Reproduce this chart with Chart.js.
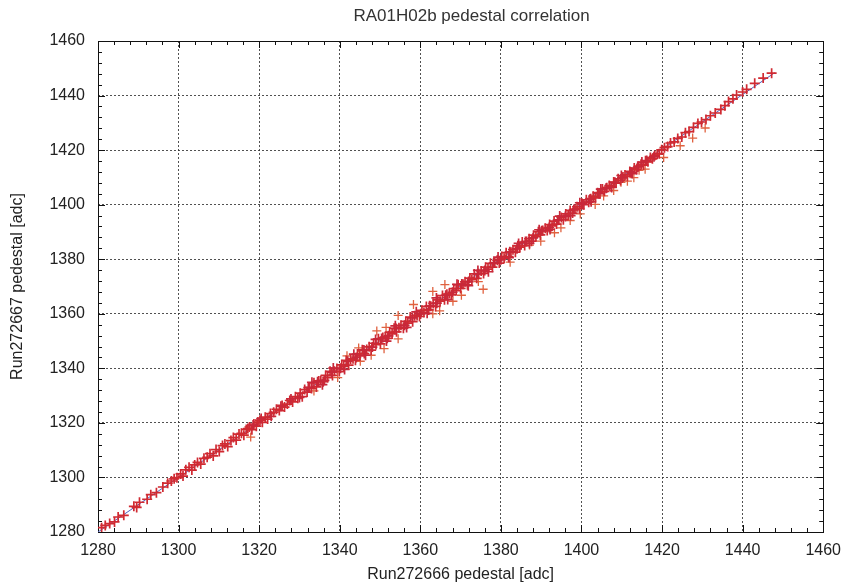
<!DOCTYPE html>
<html>
<head>
<meta charset="utf-8">
<title>RA01H02b pedestal correlation</title>
<script src="https://cdn.jsdelivr.net/npm/chart.js@4"></script>
<style>
  html, body { margin: 0; padding: 0; background: #fff; }
  #wrap { width: 850px; height: 588px; }
</style>
</head>
<body>
<div id="wrap"><canvas id="pedChart" width="850" height="588"></canvas></div>
<script>
// --- data: [Run272666, Run272667] pedestal pairs ---
const bandPoints = [
  [1280.9,1281.6],[1281.8,1282.4],[1282.9,1283.1],[1284.1,1283.7],[1285.0,1285.5],[1286.4,1286.1],
  [1288.9,1289.4],[1289.6,1289.0],[1290.3,1290.9],[1292.2,1292.0],[1293.1,1293.7],[1294.5,1294.4],
  [1296.1,1296.5],[1297.3,1297.9],[1298.2,1298.7],[1298.9,1299.5],[1299.6,1299.9],
  [1300.5,1301.3],[1301.1,1300.5],[1301.8,1302.8],[1302.6,1303.7],[1303.3,1302.7],[1304.0,1304.6],
  [1304.7,1305.5],[1305.5,1304.9],[1306.3,1307.0],[1307.1,1307.4],[1307.8,1308.7],[1308.6,1307.9],
  [1309.3,1310.2],[1310.1,1309.5],[1310.9,1311.7],[1311.5,1312.3],[1312.2,1311.3],[1313.0,1313.5],
  [1313.6,1314.6],[1314.3,1313.7],[1315.0,1315.9],[1315.6,1316.2],[1316.2,1315.5],[1316.8,1317.6],
  [1317.2,1317.9],[1317.6,1318.5],[1318.2,1317.5],[1318.7,1319.6],[1319.3,1318.8],[1319.7,1320.3],
  [1320.2,1321.0],[1320.8,1320.2],[1321.5,1322.1],[1322.1,1321.4],[1322.8,1323.4],[1323.6,1323.9],
  [1324.3,1325.0],[1325.0,1324.5],[1325.7,1326.4],[1326.3,1325.8],[1327.0,1326.9],[1327.6,1328.2],
  [1328.3,1327.7],[1329.0,1329.6],[1329.6,1329.0],
  [1330.2,1330.9],[1330.7,1329.6],[1331.3,1332.2],[1331.9,1331.3],[1332.5,1333.0],[1333.0,1332.6],
  [1333.6,1334.7],[1334.2,1333.2],[1334.8,1335.4],[1335.3,1335.5],[1335.9,1335.1],[1336.5,1337.4],
  [1337.0,1336.6],[1337.6,1338.9],[1338.2,1337.4],[1338.7,1338.9],[1339.3,1339.9],[1339.9,1338.8],
  [1340.5,1341.3],[1341.0,1340.7],[1341.6,1342.9],[1342.2,1341.2],[1342.7,1343.4],[1343.3,1343.5],
  [1343.9,1343.0],[1344.4,1345.3],[1345.0,1344.6],[1345.6,1346.8],[1346.1,1345.4],[1346.7,1346.9],
  [1347.3,1347.9],[1347.8,1346.7],[1348.4,1349.2],[1349.0,1348.7],[1349.6,1350.8],[1350.1,1349.0],
  [1350.7,1351.3],[1351.3,1351.5],[1351.8,1351.0],[1352.4,1353.3],[1353.0,1352.6],[1353.5,1354.7],
  [1354.1,1353.4],[1354.7,1354.9],[1355.2,1355.8],[1355.8,1354.7],[1356.4,1357.2],[1356.9,1356.6],
  [1357.5,1358.8],[1358.1,1357.1],[1358.6,1359.3],[1359.2,1359.4],[1359.8,1359.0],[1360.4,1361.3],
  [1360.9,1360.5],[1361.5,1362.7],[1362.1,1361.4],[1362.6,1362.8],[1363.2,1363.8],[1363.8,1362.7],
  [1364.3,1365.1],[1364.9,1364.6],[1365.5,1366.7],[1366.0,1365.1],[1366.6,1367.2],[1367.2,1367.4],
  [1367.7,1366.9],[1368.3,1369.2],[1368.9,1368.5],[1369.4,1370.6],[1370.0,1369.3],[1370.6,1370.8],
  [1371.1,1371.7],[1371.7,1370.6],[1372.3,1373.1],[1372.8,1372.5],[1373.4,1374.6],[1374.0,1373.0],
  [1374.5,1374.7],[1375.1,1375.7],[1375.7,1374.8],[1376.2,1377.1],[1376.8,1376.4],[1377.4,1378.5],
  [1377.9,1377.1],[1378.5,1378.7],[1379.1,1379.6],[1379.6,1378.6],[1380.2,1381.0],[1380.8,1380.4],
  [1381.3,1382.4],[1381.9,1381.0],[1382.5,1382.6],[1383.0,1383.5],[1383.6,1382.6],[1384.2,1384.9],
  [1384.7,1384.4],[1385.3,1386.3],[1385.9,1385.0],[1386.4,1386.5],[1387.0,1387.5],[1387.6,1386.6],
  [1388.1,1388.8],[1388.7,1388.3],[1389.3,1390.1],[1389.8,1388.9],[1390.4,1390.5],[1391.0,1391.4],
  [1391.5,1390.5],[1392.1,1392.7],[1392.7,1392.2],[1393.2,1394.0],[1393.8,1392.9],[1394.4,1394.4],
  [1395.0,1395.3],[1395.5,1394.5],[1396.1,1396.6],[1396.7,1396.1],[1397.2,1397.9],[1397.8,1396.9],
  [1398.4,1398.3],[1398.9,1399.2],[1399.5,1398.5],[1400.1,1400.5],[1400.6,1400.0],[1401.2,1401.8],
  [1401.8,1400.9],[1402.3,1402.2],[1402.9,1403.1],[1403.5,1402.5],[1404.0,1404.4],[1404.6,1404.0],
  [1405.2,1405.7],[1405.7,1404.9],[1406.3,1406.2],[1406.9,1407.0],[1407.4,1406.5],[1408.0,1408.3],
  [1408.6,1407.9],[1409.1,1409.5],[1409.7,1408.9],[1410.3,1410.1],[1410.8,1410.9],[1411.4,1410.4],
  [1412.0,1412.2],[1412.5,1411.8],[1413.1,1413.4],[1413.7,1412.9],[1414.2,1414.1],[1414.8,1414.8],
  [1415.4,1414.5],[1415.9,1416.1],[1416.5,1415.7],[1417.1,1417.3],[1417.6,1416.8],[1418.2,1418.0],
  [1418.8,1418.6],[1419.3,1418.7],[1419.9,1420.1],
  [1420.6,1420.9],[1421.4,1421.3],[1422.1,1422.6],[1423.0,1423.0],[1423.9,1424.3],[1424.9,1424.8],
  [1425.8,1426.4],[1426.7,1426.8],[1427.8,1428.3],[1428.9,1429.8],[1429.8,1430.3],[1430.9,1431.2],
  [1432.0,1432.6],[1433.2,1433.6],[1434.6,1434.9],[1435.6,1436.3],[1436.5,1437.8],[1437.6,1438.8],
  [1438.5,1440.2],[1440.0,1441.3],[1441.0,1442.3],[1443.0,1444.5],[1445.1,1446.4],[1447.2,1448.2]
];

// extra overlapping points that make the dense middle of the band look solid and wide
const bandCorePoints = [
  [1318.5,1319.2],[1320.5,1321.6],[1323.0,1322.4],[1325.4,1326.1],[1327.9,1328.8],[1330.0,1329.3],
  [1332.2,1332.9],[1334.5,1335.1],[1336.2,1335.6],[1338.0,1338.6],[1340.2,1340.0],[1342.0,1342.6],
  [1344.1,1344.0],[1346.0,1346.7],[1348.1,1347.8],[1350.4,1350.9],[1352.1,1351.9],[1354.0,1354.6],
  [1356.1,1355.8],[1358.0,1358.5],[1360.1,1360.0],[1362.3,1362.9],[1364.1,1363.9],[1366.3,1366.8],
  [1368.0,1367.9],[1370.3,1370.9],[1372.0,1371.8],[1374.2,1374.6],[1376.0,1375.9],[1378.2,1378.6],
  [1380.0,1379.8],[1382.2,1382.7],[1384.0,1383.8],[1386.1,1386.5],[1388.0,1387.8],[1390.1,1390.4],
  [1392.0,1391.6],[1394.1,1394.3],[1396.0,1395.7],[1398.1,1398.2],[1400.3,1400.2],[1402.1,1402.0],
  [1404.3,1404.1],[1406.1,1406.0],[1408.3,1408.2],[1410.1,1409.8],[1412.2,1412.0],[1414.0,1413.8],
  [1416.2,1416.2],[1418.0,1417.6],
  [1333.1,1334.9],[1335.7,1334.0],[1338.4,1340.1],[1341.2,1339.6],[1343.5,1345.2],[1346.4,1344.8],
  [1348.9,1350.6],[1351.6,1350.0],[1353.8,1355.6],[1356.6,1355.0],[1359.0,1360.7],[1361.7,1360.2],
  [1364.0,1365.8],[1366.8,1365.2],[1369.1,1370.8],[1371.9,1370.3],[1374.3,1375.9],[1376.9,1375.4],
  [1379.3,1380.8],[1382.0,1380.6],[1384.4,1385.8],[1387.1,1385.8],[1389.5,1390.8],[1392.2,1390.9],
  [1394.6,1395.8],[1397.3,1396.0],[1399.6,1400.7],[1402.4,1401.1],[1404.8,1405.7],[1407.5,1406.3],
  [1409.9,1410.7],[1412.6,1411.4],[1415.0,1415.6]
];

const outlierPoints = [
  [1341.8,1344.6],[1344.7,1347.5],[1349.2,1353.7],[1351.5,1355.0],[1354.5,1359.4],[1358.3,1363.4],
  [1363.1,1368.2],[1366.1,1370.7],
  [1317.9,1314.8],[1333.6,1331.7],[1339.5,1336.6],[1345.1,1342.6],[1347.8,1344.8],[1351.0,1347.2],
  [1354.5,1350.8],[1363.1,1360.0],[1364.8,1361.1],[1368.1,1364.6],[1370.2,1366.8],[1374.4,1371.8],
  [1375.6,1369.0],[1382.3,1378.9],[1387.1,1385.2],[1389.9,1386.6],[1393.3,1389.7],[1394.9,1391.5],
  [1397.2,1394.2],[1399.7,1396.6],[1403.4,1400.1],[1405.5,1403.2],[1408.0,1405.2],[1409.8,1408.2],
  [1411.4,1408.6],[1413.0,1409.9],[1414.3,1412.6],[1415.8,1413.0],[1420.4,1417.3],[1424.5,1421.6],
  [1427.6,1424.4],[1430.7,1428.1]
];

// thin fit line under the points
const fitX = [1280, 1448];
const fitY = [1280.0, 1448.4];

const axisMin = 1280;
const axisMax = 1460;
const majorStep = 20;
const minorStep = 4;

const chartTitle = 'RA01H02b pedestal correlation';
const xTitle = 'Run272666 pedestal [adc]';
const yTitle = 'Run272667 pedestal [adc]';

const FONT = '"Liberation Sans", Arial, Helvetica, sans-serif';

// gnuplot-like frame: box plus inward major/minor ticks on all four sides, title on top
const framePlugin = {
  id: 'frame',
  beforeDatasetsDraw(chart) {
    const { ctx, chartArea: a, scales } = chart;
    ctx.save();
    ctx.strokeStyle = '#111';
    ctx.lineWidth = 1;
    ctx.beginPath();
    for (let v = axisMin; v <= axisMax; v += minorStep) {
      const len = (v - axisMin) % majorStep === 0 ? 7 : 4;
      const px = Math.round(scales.x.getPixelForValue(v)) + 0.5;
      const py = Math.round(scales.y.getPixelForValue(v)) + 0.5;
      ctx.moveTo(px, a.bottom); ctx.lineTo(px, a.bottom - len);
      ctx.moveTo(px, a.top); ctx.lineTo(px, a.top + len);
      ctx.moveTo(a.left, py); ctx.lineTo(a.left + len, py);
      ctx.moveTo(a.right, py); ctx.lineTo(a.right - len, py);
    }
    ctx.stroke();
    ctx.strokeRect(Math.round(a.left) + 0.5, Math.round(a.top) + 0.5,
      Math.round(a.right - a.left), Math.round(a.bottom - a.top));
    ctx.restore();
  },
  afterDraw(chart) {
    const { ctx, chartArea: a } = chart;
    ctx.save();
    ctx.fillStyle = '#333';
    ctx.font = '17px ' + FONT;
    ctx.textAlign = 'center';
    ctx.textBaseline = 'middle';
    ctx.fillText(chartTitle, (a.left + a.right) / 2 + 11, 16);
    ctx.restore();
  }
};

const plainTick = (value) => String(value);

const ctx = document.getElementById('pedChart').getContext('2d');

const pedChart = new Chart(ctx, {
  type: 'scatter',
  data: {
    datasets: [
      {
        label: 'fit',
        data: fitX.map((x, i) => ({ x: x, y: fitY[i] })),
        showLine: true,
        borderColor: '#4f63c4',
        borderWidth: 1,
        pointRadius: 0,
        order: 4
      },
      {
        label: 'outliers',
        data: outlierPoints.map(p => ({ x: p[0], y: p[1] })),
        pointStyle: 'cross',
        pointRadius: 4.5,
        borderColor: '#e0613f',
        borderWidth: 1.3,
        order: 3
      },
      {
        label: 'pedestal',
        data: bandPoints.map(p => ({ x: p[0], y: p[1] })),
        pointStyle: 'cross',
        pointRadius: 5,
        borderColor: '#d02a32',
        borderWidth: 1.7,
        order: 2
      },
      {
        label: 'pedestal core',
        data: bandCorePoints.map(p => ({ x: p[0], y: p[1] })),
        pointStyle: 'cross',
        pointRadius: 5,
        borderColor: '#c8283a',
        borderWidth: 1.7,
        order: 1
      }
    ]
  },
  options: {
    responsive: false,
    animation: false,
    devicePixelRatio: 1,
    layout: { padding: { top: 41, right: 24, left: 0, bottom: 0 } },
    plugins: {
      legend: { display: false },
      tooltip: { enabled: false },
      title: { display: false }
    },
    scales: {
      x: {
        type: 'linear',
        min: axisMin,
        max: axisMax,
        afterFit: (scale) => { scale.height = 56; },
        ticks: {
          stepSize: majorStep,
          padding: 9,
          color: '#222',
          font: { family: FONT, size: 16 },
          callback: plainTick
        },
        grid: {
          color: 'rgba(50,50,50,0.85)',
          lineWidth: 1,
          drawTicks: false
        },
        border: { display: false, dash: [2, 2] },
        title: {
          display: true,
          text: xTitle,
          color: '#222',
          font: { family: FONT, size: 16 },
          padding: { top: 0, bottom: 4 }
        }
      },
      y: {
        type: 'linear',
        min: axisMin,
        max: axisMax,
        afterFit: (scale) => { scale.width = 98; },
        ticks: {
          stepSize: majorStep,
          padding: 13,
          color: '#222',
          font: { family: FONT, size: 16 },
          callback: plainTick
        },
        grid: {
          color: 'rgba(50,50,50,0.85)',
          lineWidth: 1,
          drawTicks: false
        },
        border: { display: false, dash: [2, 2] },
        title: {
          display: true,
          text: yTitle,
          color: '#222',
          font: { family: FONT, size: 16 },
          padding: { top: 8, bottom: 0 }
        }
      }
    }
  },
  plugins: [framePlugin]
});
</script>
</body>
</html>
